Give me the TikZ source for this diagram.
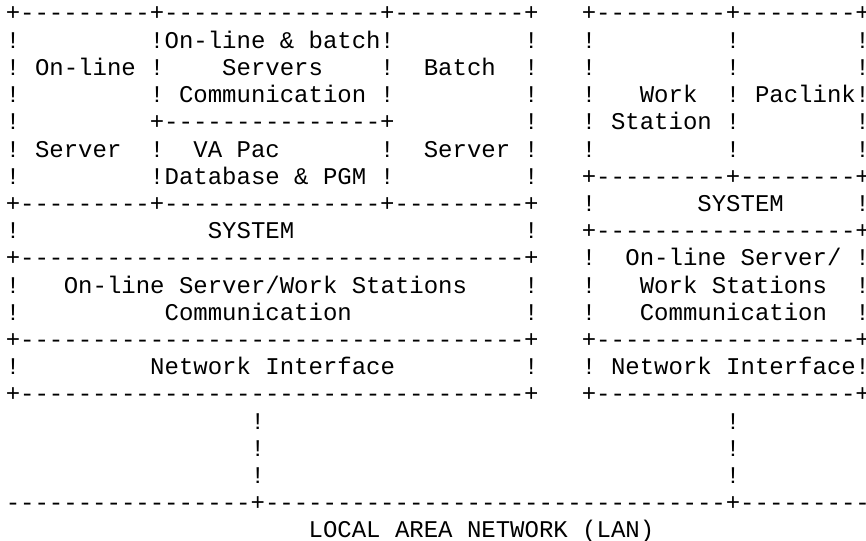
\documentclass[tikz,border=0pt]{standalone}
\usepackage{fontspec}
\usepackage{tikz}
\newfontfamily\ascmono{Liberation Mono}
\newcommand\ascfont{\ascmono\fontsize{12pt}{13.6pt}\selectfont}

\begin{document}
\begin{tikzpicture}[x=7.2pt, y=-13.6pt,
    chr/.style={anchor=base, inner sep=0pt, font=\ascfont},
    txt/.style={anchor=base west, inner sep=0pt, font=\ascfont}]
    \useasboundingbox (-6.5pt,10.5pt) rectangle (426.5pt,-259.5pt);

%draw the dashes of the box edges (row/first/last column)
    \foreach \r/\a/\b in {0/1/9, 0/11/25, 0/27/35, 0/41/49, 0/51/58,
                          4/11/25, 6/41/49, 6/51/58,
                          7/1/9, 7/11/25, 7/27/35, 8/41/58,
                          9/1/35, 12/1/35, 12/41/58, 14/1/35, 14/41/58,
                          18/0/16, 18/18/49, 18/51/59}
    \foreach \c in {\a,...,\b}
    \node[chr] (dash-\r-\c) at (\c,\r) {-};

%draw the corners
    \foreach \r/\c in {0/0, 0/10, 0/26, 0/36, 0/40, 0/50, 0/59,
                       4/10, 4/26, 6/40, 6/50, 6/59,
                       7/0, 7/10, 7/26, 7/36, 8/40, 8/59, 9/0, 9/36,
                       12/0, 12/36, 12/40, 12/59, 14/0, 14/36, 14/40, 14/59,
                       18/17, 18/50}
    \node[chr] (plus-\r-\c) at (\c,\r) {+};

%draw the walls
    \foreach \c in {0,36}
    \foreach \r in {1,...,6,8,10,11,13}
    \node[chr] (bar-\r-\c) at (\c,\r) {!};
    \foreach \c in {10,26}
    \foreach \r in {1,2,3,5,6}
    \node[chr] (bar-\r-\c) at (\c,\r) {!};
    \foreach \c in {40,59}
    \foreach \r in {1,...,5,7,9,10,11,13}
    \node[chr] (bar-\r-\c) at (\c,\r) {!};
    \foreach \r in {1,...,5}
    \node[chr] (bar-\r-50) at (50,\r) {!};

%draw the drops to the LAN
    \foreach \c in {17,50}
    \foreach \r in {15,16,17}
    \node[chr] (drop-\r-\c) at (\c,\r) {!};

%draw the labels of the server
    \node[txt] (batchcomm) at (10.5,1) {On-line \& batch};
    \node[txt] (online) at (1.5,2) {On-line};
    \node[txt] (servers) at (14.5,2) {Servers};
    \node[txt] (batch) at (28.5,2) {Batch};
    \node[txt] (servcomm) at (11.5,3) {Communication};
    \node[txt] (onserver) at (1.5,5) {Server};
    \node[txt] (vapac) at (12.5,5) {VA Pac};
    \node[txt] (batserver) at (28.5,5) {Server};
    \node[txt] (database) at (10.5,6) {Database \& PGM};
    \node[txt] (syscenter) at (13.5,8) {SYSTEM};
    \node[txt] (wscomm) at (3.5,10) {On-line Server/Work Stations};
    \node[txt] (wscomm2) at (10.5,11) {Communication};
    \node[txt] (netcenter) at (9.5,13) {Network Interface};

%draw the labels of the work station
    \node[txt] (work) at (43.5,3) {Work};
    \node[txt] (paclink) at (51.5,3) {Paclink};
    \node[txt] (station) at (41.5,4) {Station};
    \node[txt] (sysstation) at (47.5,7) {SYSTEM};
    \node[txt] (srvcomm) at (42.5,9) {On-line Server/};
    \node[txt] (srvcomm2) at (43.5,10) {Work Stations};
    \node[txt] (srvcomm3) at (43.5,11) {Communication};
    \node[txt] (netstation) at (41.5,13) {Network Interface};

%draw the LAN name
    \node[txt] (lan) at (20.5,19) {LOCAL AREA NETWORK (LAN)};

\end{tikzpicture}
\end{document}
